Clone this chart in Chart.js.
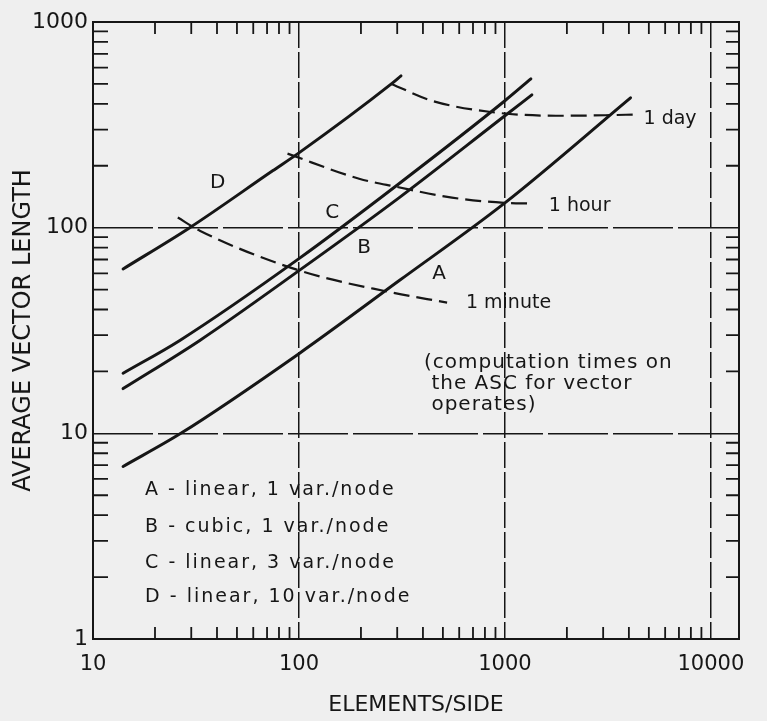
<!DOCTYPE html>
<html>
<head>
<meta charset="utf-8">
<script src="https://cdn.jsdelivr.net/npm/chart.js@4.4.1/dist/chart.umd.min.js"></script>
<style>
  html, body { margin: 0; padding: 0; background: #efefef; }
  #wrap { width: 767px; height: 721px; position: relative; }
</style>
</head>
<body>
<div id="wrap"><canvas id="chart"></canvas></div>
<script>
// axis tick labels
const elementTicks = [10, 100, 1000, 10000];
const lengthTicks = [1, 10, 100, 1000];

// A - linear, 1 var./node
const elemA = [14, 26.7, 100, 307, 1000, 4074];
const lenA = [6.9, 10, 24.4, 55.3, 132, 428];
// B - cubic, 1 var./node
const elemB = [14, 33, 100, 307, 1000, 1352];
const lenB = [16.5, 28.3, 61.8, 140, 350, 442];
// C - linear, 3 var./node
const elemC = [14, 26.4, 100, 307, 1000, 1337];
const lenC = [19.6, 28.3, 70.7, 164, 414, 529];
// D - linear, 10 var./node
const elemD = [14, 29.5, 74.5, 100, 281, 313];
const lenD = [63, 100, 189, 231, 500, 547];

// computation time contours (dashed)
const elemMinute = [25.8, 33, 101, 268, 524];
const lenMinute = [112, 96.7, 61.8, 48.9, 43.2];
const elemHour = [88, 196, 297, 553, 1000, 1352];
const lenHour = [229, 173, 158, 140, 132, 131];
const elemDay = [281, 443, 837, 1766, 3083, 4305];
const lenDay = [500, 414, 366, 350, 352, 355];

const keyLines = [
  'A - linear, 1 var./node',
  'B - cubic, 1 var./node',
  'C - linear, 3 var./node',
  'D - linear, 10 var./node'
];
const noteLines = [
  '(computation times on',
  ' the ASC for vector',
  ' operates)'
];

const INK = '#161616';
const FONT = "'DejaVu Sans', sans-serif";

// text placed in data units on the plot
const labels = [
  {text: 'D', x: 40.3, y: 165, size: 20, align: 'center'},
  {text: 'C', x: 145, y: 118, size: 20, align: 'center'},
  {text: 'B', x: 207, y: 80, size: 20, align: 'center'},
  {text: 'A', x: 479, y: 59.8, size: 20, align: 'center'},
  {text: '1 day', x: 4710, y: 338, size: 19, align: 'left'},
  {text: '1 hour', x: 1634, y: 128, size: 19, align: 'left'},
  {text: '1 minute', x: 647, y: 42.8, size: 19, align: 'left'},
  {text: noteLines[0], x: 405, y: 22.0, size: 20, align: 'left', spacing: 1},
  {text: noteLines[1], x: 405, y: 17.4, size: 20, align: 'left', spacing: 1},
  {text: noteLines[2], x: 405, y: 13.7, size: 20, align: 'left', spacing: 1},
  {text: keyLines[0], x: 17.9, y: 5.29, size: 19, align: 'left', spacing: 2},
  {text: keyLines[1], x: 17.9, y: 3.50, size: 19, align: 'left', spacing: 2},
  {text: keyLines[2], x: 17.9, y: 2.34, size: 19, align: 'left', spacing: 2},
  {text: keyLines[3], x: 17.9, y: 1.60, size: 19, align: 'left', spacing: 2}
];

function pairs(xs, ys) {
  return xs.map((x, i) => ({x: x, y: ys[i]}));
}

function curve(label, xs, ys, dashed) {
  return {
    label: label,
    data: pairs(xs, ys),
    borderColor: INK,
    borderWidth: dashed ? 2.2 : 3,
    borderDash: dashed ? [16, 7] : [],
    borderCapStyle: dashed ? 'butt' : 'round',
    pointRadius: 0,
    cubicInterpolationMode: 'monotone',
    fill: false
  };
}

// minor tick positions 2..9 inside each decade
function minors(majors, max) {
  const out = [];
  majors.forEach(d => {
    for (let m = 2; m <= 9; m++) {
      if (d * m < max) out.push(d * m);
    }
  });
  return out;
}

const frame = {
  id: 'frame',
  afterDraw(chart) {
    const {ctx, chartArea: a, scales: {x, y}} = chart;
    ctx.save();
    ctx.strokeStyle = INK;
    ctx.lineWidth = 2;
    ctx.strokeRect(a.left, a.top, a.right - a.left, a.bottom - a.top);
    ctx.lineWidth = 1.8;
    ctx.beginPath();
    minors(elementTicks, x.max).forEach(v => {
      const px = x.getPixelForValue(v);
      ctx.moveTo(px, a.bottom); ctx.lineTo(px, a.bottom - 12);
      ctx.moveTo(px, a.top); ctx.lineTo(px, a.top + 12);
    });
    minors(lengthTicks, y.max).forEach(v => {
      const py = y.getPixelForValue(v);
      ctx.moveTo(a.left, py); ctx.lineTo(a.left + 15, py);
      ctx.moveTo(a.right, py); ctx.lineTo(a.right - 13, py);
    });
    ctx.stroke();
    ctx.restore();
  }
};

const notes = {
  id: 'notes',
  afterDatasetsDraw(chart) {
    const {ctx, scales: {x, y}} = chart;
    ctx.save();
    ctx.fillStyle = INK;
    ctx.textBaseline = 'middle';
    labels.forEach(n => {
      ctx.font = n.size + 'px ' + FONT;
      ctx.textAlign = n.align;
      ctx.letterSpacing = (n.spacing || 0) + 'px';
      ctx.fillText(n.text, x.getPixelForValue(n.x), y.getPixelForValue(n.y));
    });
    ctx.restore();
  }
};

new Chart(document.getElementById('chart'), {
  type: 'line',
  data: {
    datasets: [
      curve('A', elemA, lenA, false),
      curve('B', elemB, lenB, false),
      curve('C', elemC, lenC, false),
      curve('D', elemD, lenD, false),
      curve('1 minute', elemMinute, lenMinute, true),
      curve('1 hour', elemHour, lenHour, true),
      curve('1 day', elemDay, lenDay, true)
    ]
  },
  options: {
    responsive: true,
    maintainAspectRatio: false,
    animation: false,
    layout: { padding: {top: 22, right: 28, bottom: 0, left: 0} },
    plugins: {
      legend: { display: false },
      tooltip: { enabled: false }
    },
    scales: {
      x: {
        type: 'logarithmic',
        min: 10,
        max: 13700,
        afterBuildTicks: s => { s.ticks = elementTicks.map(v => ({value: v})); },
        afterFit: s => { s.height = 82; },
        ticks: {
          color: INK,
          font: {family: FONT, size: 21},
          padding: 13,
          maxRotation: 0,
          autoSkip: false,
          callback: v => String(v)
        },
        grid: { color: INK, lineWidth: 1.5, drawTicks: false },
        border: { display: false, dash: [26, 4] },
        title: {
          display: true,
          text: 'ELEMENTS/SIDE',
          color: INK,
          font: {family: FONT, size: 22},
          padding: {top: 0, bottom: 3}
        }
      },
      y: {
        type: 'logarithmic',
        min: 1,
        max: 1000,
        afterBuildTicks: s => { s.ticks = lengthTicks.map(v => ({value: v})); },
        afterFit: s => { s.width = 93; },
        ticks: {
          color: INK,
          font: {family: FONT, size: 22},
          padding: 5,
          autoSkip: false,
          callback: v => String(v)
        },
        grid: { color: INK, lineWidth: 1.5, drawTicks: false },
        border: { display: false, dash: [60, 5] },
        title: {
          display: true,
          text: 'AVERAGE VECTOR LENGTH',
          color: INK,
          font: {family: FONT, size: 24},
          padding: {top: 9, bottom: 0}
        }
      }
    }
  },
  plugins: [frame, notes]
});
</script>
</body>
</html>
